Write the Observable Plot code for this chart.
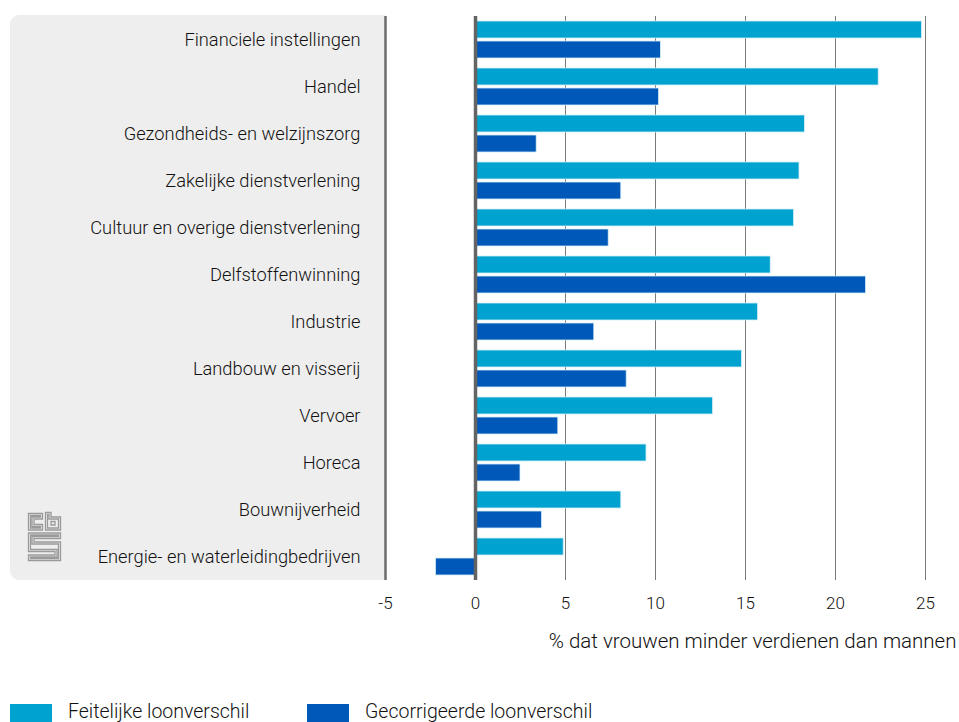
<!DOCTYPE html>
<html>
<head>
<meta charset="utf-8">
<script src="https://cdn.jsdelivr.net/npm/d3@7"></script>
<script src="https://cdn.jsdelivr.net/npm/@observablehq/plot@0.6"></script>
<style>
  html, body { margin: 0; padding: 0; background: #fff; }
  #wrap { position: relative; width: 959px; height: 722px; overflow: hidden; font-family: Roboto, "Noto Sans", sans-serif; }
  #panel { position: absolute; left: 10px; top: 15px; width: 375px; height: 565px; background: #eeeeee; border-radius: 9px 0 0 9px; }
  #logo { position: absolute; left: 26px; top: 510px; }
  #chart { position: absolute; left: 0; top: 0; }
  #legend { position: absolute; top: 702px; left: 0; width: 959px; font-size: 19.5px; font-weight: 300; color: #111; line-height: 20px; }
  .item { position: absolute; top: 0; display: flex; align-items: flex-start; }
  .sw { width: 42px; height: 18px; margin-right: 16px; margin-top: 2px; }
</style>
</head>
<body>
<div id="wrap">
  <div id="panel"></div>
  <svg id="logo" width="38" height="54" viewBox="0 0 38 54">
    <g fill="none" stroke="#9a9a9a" stroke-width="1.3">
      <path d="M2.5 3.5 H16.5 V9 H8 V14.5 H16.5 V20 H2.5 Z"/>
      <path d="M4.5 5.5 H14.5 V7 H6 V16.5 H14.5 V18 H4.5 Z"/>
      <path d="M19.5 2.5 H25 V7 H34.5 V20 H19.5 Z"/>
      <path d="M21.5 4.5 H23 V9 H32.5 V18 H21.5 Z"/>
      <path d="M25 11.5 H29 V15 H25 Z"/>
      <path d="M2.5 23 H34.5 V28.5 H8 V32 H34.5 V50.5 H2.5 V45 H29 V41.5 H2.5 Z"/>
      <path d="M4.5 25 H32.5 V26.5 H6 V34 H32.5 V48.5 H4.5 V47 H31 V39.5 H4.5 Z"/>
    </g>
  </svg>
  <div id="chart"></div>
  <div id="legend"></div>
</div>
<script>
const categories = [
  "Financiele instellingen",
  "Handel",
  "Gezondheids- en welzijnszorg",
  "Zakelijke dienstverlening",
  "Cultuur en overige dienstverlening",
  "Delfstoffenwinning",
  "Industrie",
  "Landbouw en visserij",
  "Vervoer",
  "Horeca",
  "Bouwnijverheid",
  "Energie- en waterleidingbedrijven"
];
const seriesNames = ["Feitelijke loonverschil", "Gecorrigeerde loonverschil"];
const feitelijk = [24.8, 22.4, 18.3, 18.0, 17.7, 16.4, 15.7, 14.8, 13.2, 9.5, 8.1, 4.9];
const gecorrigeerd = [10.3, 10.2, 3.4, 8.1, 7.4, 21.7, 6.6, 8.4, 4.6, 2.5, 3.7, -2.2];
const xTicks = [-5, 0, 5, 10, 15, 20, 25];
const xLabel = "% dat vrouwen minder verdienen dan mannen";
const colors = ["#00a2cf", "#0058b8"];

const data = [];
categories.forEach((c, i) => {
  data.push({category: c, series: seriesNames[0], value: feitelijk[i]});
  data.push({category: c, series: seriesNames[1], value: gecorrigeerd[i]});
});

const chart = Plot.plot({
  width: 959,
  height: 660,
  marginTop: 15,
  marginBottom: 80,
  marginLeft: 385,
  marginRight: 2,
  style: {fontFamily: "Roboto, 'Noto Sans', sans-serif", fontSize: "16px", fontWeight: 300, color: "#111", background: "transparent", overflow: "visible"},
  x: {domain: [-5, 25], range: [385, 925]},
  fy: {domain: categories, padding: 0, label: null},
  y: {domain: seriesNames, paddingInner: 0.14, paddingOuter: 0.19, axis: null},
  color: {domain: seriesNames, range: colors},
  marks: [
    Plot.ruleX(xTicks.filter(d => d > 0), {stroke: "#7a7a7a", strokeWidth: 1}),
    Plot.ruleX([-5], {stroke: "#6b6b6b", strokeWidth: 2.5}),
    Plot.barX(data, {fy: "category", y: "series", x1: 0, x2: "value", fill: "series", stroke: "#d8eef8", strokeWidth: 0.8}),
    Plot.ruleX([0], {stroke: "#646464", strokeWidth: 3.5}),
    Plot.axisX({ticks: xTicks, tickFormat: d => String(d), tickSize: 0, tickPadding: 16, fontSize: 17, label: xLabel, labelAnchor: "right", labelArrow: "none", labelOffset: 67}),
    Plot.axisFy({anchor: "left", tickSize: 0, tickPadding: 25, fontSize: 18.3, label: null})
  ]
});
document.getElementById("chart").appendChild(chart);

// style the x axis label larger
chart.querySelectorAll("text").forEach(t => {
  if (t.textContent === xLabel) { t.setAttribute("font-size", "20.5"); }
});

const legend = document.getElementById("legend");
const positions = [10, 307];
seriesNames.forEach((s, i) => {
  const item = document.createElement("div");
  item.className = "item";
  item.style.left = positions[i] + "px";
  const sw = document.createElement("div");
  sw.className = "sw";
  sw.style.background = colors[i];
  const tx = document.createElement("span");
  tx.textContent = s;
  item.appendChild(sw);
  item.appendChild(tx);
  legend.appendChild(item);
});
</script>
</body>
</html>
